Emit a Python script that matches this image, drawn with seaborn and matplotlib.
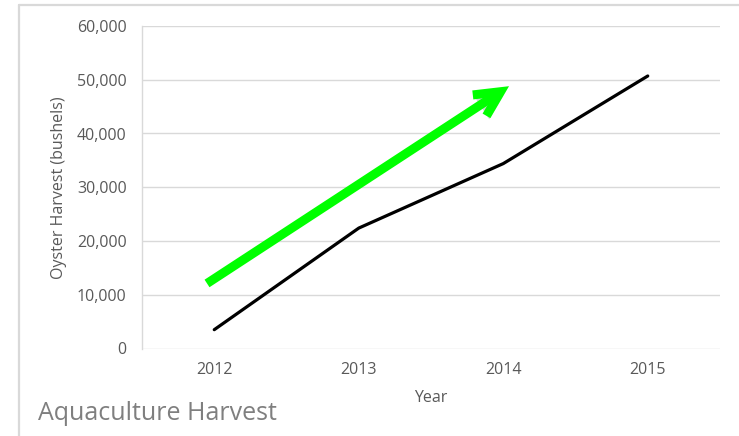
import matplotlib
matplotlib.use("Agg")
import matplotlib.pyplot as plt
import matplotlib.patheffects as pe
from matplotlib.lines import Line2D
import seaborn as sns
import pandas as pd

years = ["2012", "2013", "2014", "2015"]
harvest = [3500, 22400, 34400, 50700]
yticks = [0, 10000, 20000, 30000, 40000, 50000, 60000]
ytick_labels = ["0", "10,000", "20,000", "30,000", "40,000", "50,000", "60,000"]
arrow_start = (-0.05, 12100)
arrow_end = (2.04, 48800)

df = pd.DataFrame({"Year": years, "Harvest": harvest})

sns.set_theme(style="white")
plt.rcParams["font.family"] = ["Open Sans", "DejaVu Sans"]

fig = plt.figure(figsize=(7.39, 4.36), dpi=100)
ax = fig.add_axes([142 / 739, 1 - 348.5 / 436, (720 - 142) / 739, (348.5 - 26) / 436])

sns.lineplot(data=df, x="Year", y="Harvest", ax=ax, color="black", linewidth=2.3,
             sort=False, solid_capstyle="round")

ax.set_xlim(-0.5, 3.5)
ax.set_ylim(0, 60000)
ax.set_yticks(yticks)
ax.set_yticklabels(ytick_labels)
ax.grid(axis="y", color="#d9d9d9", linewidth=1)
ax.set_axisbelow(True)
for s in ["top", "right", "bottom"]:
    ax.spines[s].set_visible(False)
ax.spines["left"].set_color("#d9d9d9")
ax.spines["left"].set_linewidth(1)
ax.tick_params(axis="both", length=0, labelsize=11.5, labelcolor="#595959")
ax.tick_params(axis="y", pad=11)
ax.tick_params(axis="x", pad=10)
ax.set_xlabel("Year", fontsize=11.5, color="#595959", labelpad=8)
ax.set_ylabel("Oyster Harvest (bushels)", fontsize=11.5, color="#595959", labelpad=7)

arrow_kw = dict(arrowstyle="->,head_length=1.5,head_width=0.75", linewidth=6.5,
                capstyle="butt", joinstyle="miter", shrinkA=0, shrinkB=0)
# shadow only
ax.annotate("", xy=arrow_end, xytext=arrow_start,
            arrowprops=dict(color="#00ff00",
                            path_effects=[pe.SimplePatchShadow(offset=(2, -2.5), shadow_rgbFace="#888888", alpha=0.35)],
                            **arrow_kw))
# arrow
ax.annotate("", xy=arrow_end, xytext=arrow_start,
            arrowprops=dict(color="#00ff00", **arrow_kw))

fig.text(38 / 739, 1 - 413 / 436, "Aquaculture Harvest", fontsize=18, color="#7f7f7f",
         ha="left", va="center")

# outer frame (clipped chart border)
fig.add_artist(Line2D([19 / 739, 19 / 739], [0, 1 - 5 / 436], transform=fig.transFigure,
                      color="#d9d9d9", linewidth=1.6))
fig.add_artist(Line2D([19 / 739, 1], [1 - 5 / 436, 1 - 5 / 436], transform=fig.transFigure,
                      color="#d9d9d9", linewidth=1.6))

fig.savefig("out.png", dpi=100)
